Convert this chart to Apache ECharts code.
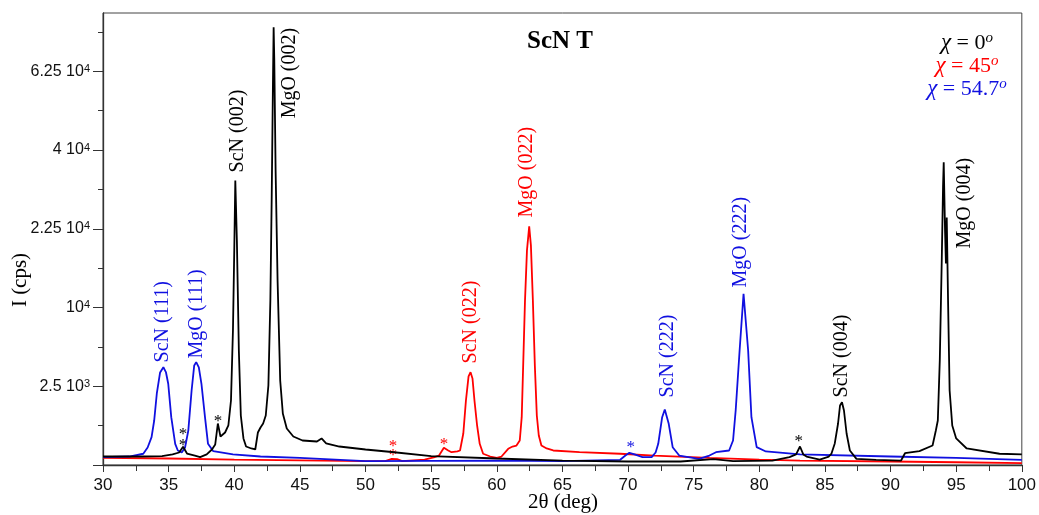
<!DOCTYPE html>
<html>
<head>
<meta charset="utf-8">
<title>ScN T</title>
<script src="https://cdn.jsdelivr.net/npm/echarts@6/dist/echarts.min.js"></script>
<style>
html, body { margin: 0; padding: 0; background: #fff; }
#chart { width: 1039px; height: 515px; }
</style>
</head>
<body>
<div id="chart"></div>
<script>
// 2θ (deg), intensity (cps)
var chi0 = [
  [30, 29], [31, 29], [33, 29], [34.5, 32], [35.3, 45], [35.8, 63], [36.1, 134], [36.4, 53],
  [37.0, 36], [37.4, 25], [37.9, 45], [38.3, 97], [38.55, 170], [38.75, 695], [38.95, 328],
  [39.1, 284], [39.3, 426], [39.55, 630], [39.75, 1679], [39.9, 7302], [40.0, 18573],
  [40.08, 32663], [40.2, 20342], [40.35, 5292], [40.5, 989], [40.7, 284], [40.9, 138],
  [41.3, 110], [41.6, 97], [41.8, 426], [42.0, 567], [42.2, 695], [42.4, 989], [42.6, 2551],
  [42.75, 10923], [42.85, 28237], [42.95, 59670], [43.0, 77261], [43.05, 66043], [43.15, 35008],
  [43.3, 13744], [43.5, 2882], [43.7, 1071], [44.0, 538], [44.5, 328], [45.2, 242], [46.3, 223],
  [46.65, 284], [47.0, 187], [48, 138], [50, 97], [52, 68], [55, 32], [60, 17], [65, 8],
  [70, 5], [74, 5], [76.5, 14], [78, 6], [81, 8], [82.3, 25], [82.8, 45], [83.1, 138],
  [83.35, 45], [83.6, 29], [84.6, 12], [85.3, 29], [85.5, 53], [85.75, 187], [86.0, 695],
  [86.15, 1429], [86.3, 1592], [86.45, 1198], [86.65, 400], [86.9, 85], [87.4, 15], [88.9, 11],
  [90.8, 8], [91.1, 56], [92.2, 77], [93.2, 153], [93.45, 480], [93.6, 799], [93.75, 4408],
  [93.9, 16884], [94.0, 31528], [94.05, 36935], [94.15, 22195], [94.22, 16388], [94.28, 24724],
  [94.38, 10923], [94.5, 2240], [94.7, 630], [95.0, 284], [95.8, 110], [98.3, 51], [100, 45]
];
var chi45 = [
  [30, 21], [35, 17], [40, 12], [45, 9], [50, 6], [51.5, 6], [52.0, 15], [52.4, 14], [52.8, 6],
  [54.5, 12], [55.2, 23], [55.6, 36], [55.97, 119], [56.3, 85], [56.55, 66], [57.0, 74],
  [57.2, 85], [57.45, 400], [57.65, 1679], [57.85, 3161], [58.0, 3476], [58.15, 3020],
  [58.3, 1679], [58.5, 630], [58.7, 181], [58.96, 51], [59.5, 29], [60.0, 21], [60.36, 29],
  [60.87, 106], [61.2, 138], [61.5, 153], [61.75, 242], [61.9, 922], [62.0, 3605],
  [62.15, 10923], [62.3, 18573], [62.47, 22979], [62.6, 19450], [62.75, 10923], [62.9, 3996],
  [63.05, 989], [63.2, 351], [63.4, 153], [63.8, 110], [64.3, 85], [66.3, 66], [69.4, 51],
  [72, 36], [76.2, 21], [80, 12], [83.1, 8], [90, 5], [95, 3], [100, 1.3]
];
var chi547 = [
  [30, 25], [32, 29], [33.07, 51], [33.4, 124], [33.7, 312], [33.9, 799], [34.1, 2064],
  [34.35, 3454], [34.6, 3861], [34.8, 3454], [34.97, 2661], [35.2, 922], [35.5, 181],
  [35.7, 85], [36.0, 63], [36.25, 124], [36.5, 480], [36.75, 2240], [36.95, 3996],
  [37.1, 4266], [37.3, 3837], [37.5, 2661], [37.77, 922], [38.0, 181], [38.4, 77],
  [39.9, 45], [42, 29], [45, 20], [50, 6], [60, 8], [65, 6], [69.4, 11], [69.8, 36],
  [70.1, 60], [70.5, 45], [71.1, 25], [71.8, 25], [72.1, 63], [72.3, 181], [72.6, 922],
  [72.8, 1243], [73.1, 685], [73.4, 128], [73.9, 36], [75.4, 15], [76.2, 36], [76.7, 66],
  [77.7, 85], [78.0, 242], [78.2, 1198], [78.5, 5292], [78.8, 11831], [79.15, 5292],
  [79.4, 922], [79.8, 128], [80.5, 74], [83.1, 45], [90, 29], [95, 20], [100, 11]
];

// y axis is drawn on a square-root scale
var yMaxCps = 82400;
var yTickCps = [0, 2500, 10000, 22500, 40000, 62500];
var yTickText = ['', '2.5 10{s|3}', '10{s|4}', '2.25 10{s|4}', '4 10{s|4}', '6.25 10{s|4}'];
var yMinorCps = [625, 5625, 15625, 30625, 50625, 75625];

// peak labels: 2θ, cps at text start, text, colour key
var peakLabels = [
  [34.57, 4240, 'ScN (111)', 'b'],
  [37.14, 4578, 'MgO (111)', 'b'],
  [40.23, 34530, 'ScN (002)', 'k'],
  [44.19, 48460, 'MgO (002)', 'k'],
  [58.0, 4160, 'ScN (022)', 'r'],
  [62.31, 24720, 'MgO (022)', 'r'],
  [73.05, 1840, 'ScN (222)', 'b'],
  [78.59, 12720, 'MgO (222)', 'b'],
  [86.31, 1840, 'ScN (004)', 'k'],
  [95.65, 18920, 'MgO (004)', 'k']
];
var stars = [
  [36.09, 375, 'k'], [36.09, 153, 'k'], [38.76, 763, 'k'],
  [52.09, 138, 'r'], [52.09, 36, 'r'], [55.97, 170, 'r'],
  [70.21, 124, 'b'], [83.01, 223, 'k']
];

var colors = { k: '#000000', r: '#ff0000', b: '#1010e0' };
var sq = function (p) { return [p[0], Math.sqrt(p[1])]; };
var sansFont = '"Liberation Sans Narrow", "Liberation Sans", sans-serif';
var serifFont = '"Liberation Serif", "Times New Roman", serif';

var chart = echarts.init(document.getElementById('chart'));

var lineSeries = function (name, data, color) {
  return {
    name: name,
    type: 'line',
    data: data.map(sq),
    symbol: 'none',
    smooth: false,
    animation: false,
    lineStyle: { color: color, width: 1.8 }
  };
};

chart.setOption({
  animation: false,
  grid: {
    left: 103, right: 17, top: 13, bottom: 50,
    show: true, borderColor: '#444', borderWidth: 1
  },
  xAxis: {
    type: 'value',
    min: 30, max: 100, interval: 5,
    axisLine: { lineStyle: { color: '#333', width: 1.3 } },
    axisTick: { length: 7, lineStyle: { color: '#333' } },
    minorTick: { show: true, splitNumber: 2, length: 6, lineStyle: { color: '#333' } },
    splitLine: { show: false },
    axisLabel: { color: '#111', fontSize: 17, fontFamily: sansFont, margin: 12 }
  },
  yAxis: [{
    type: 'value',
    min: 0, max: Math.sqrt(yMaxCps),
    axisLine: { show: true, lineStyle: { color: '#333', width: 1.3 } },
    axisTick: {
      show: true, length: 10, lineStyle: { color: '#333' },
      customValues: yTickCps.map(Math.sqrt)
    },
    splitLine: { show: false },
    axisLabel: {
      customValues: yTickCps.slice(1).map(Math.sqrt),
      margin: 13,
      color: '#111', fontSize: 16, fontFamily: sansFont,
      formatter: function (v) {
        for (var i = 0; i < yTickCps.length; i++) {
          if (Math.abs(Math.sqrt(yTickCps[i]) - v) < 0.01) return yTickText[i];
        }
        return '';
      },
      rich: { s: { fontSize: 11, fontFamily: sansFont, color: '#111', verticalAlign: 'top', lineHeight: 10 } }
    }
  }, {
    type: 'value',
    position: 'left',
    min: 0, max: Math.sqrt(yMaxCps),
    axisLine: { show: false },
    axisTick: {
      show: true, length: 5, lineStyle: { color: '#333' },
      customValues: yMinorCps.map(Math.sqrt)
    },
    axisLabel: { show: false },
    splitLine: { show: false }
  }],
  series: [
    lineSeries('χ = 45°', chi45, colors.r),
    lineSeries('χ = 54.7°', chi547, colors.b),
    lineSeries('χ = 0°', chi0, colors.k)
  ]
});

var graphics = [];
peakLabels.forEach(function (l) {
  var pt = chart.convertToPixel({ seriesIndex: 0 }, [l[0], Math.sqrt(l[1])]);
  graphics.push({
    type: 'text', x: pt[0], y: pt[1], rotation: Math.PI / 2,
    style: { text: l[2], fill: colors[l[3]], fontSize: 20, fontFamily: serifFont, align: 'left', verticalAlign: 'middle' }
  });
});
stars.forEach(function (s) {
  var pt = chart.convertToPixel({ seriesIndex: 0 }, [s[0], Math.sqrt(s[1])]);
  graphics.push({
    type: 'text', x: pt[0], y: pt[1],
    style: { text: '*', fill: colors[s[2]], fontSize: 17, fontFamily: serifFont, align: 'center', verticalAlign: 'middle' }
  });
});

// title, legend text and axis names
graphics.push({
  type: 'text', x: 560, y: 42,
  style: { text: 'ScN T', fill: '#000', fontSize: 25, fontWeight: 'bold', fontFamily: serifFont, align: 'center', verticalAlign: 'middle' }
});
var legendRows = [['0', 'k', 43], ['45', 'r', 66], ['54.7', 'b', 89]];
legendRows.forEach(function (r) {
  var c = colors[r[1]];
  graphics.push({
    type: 'text', x: 967, y: r[2],
    style: {
      text: '{c|χ}{n| = ' + r[0] + '}{o|o}',
      align: 'center', verticalAlign: 'middle',
      rich: {
        c: { fontSize: 23, fontStyle: 'italic', fontFamily: serifFont, fill: c, lineHeight: 25 },
        n: { fontSize: 22, fontFamily: serifFont, fill: c, lineHeight: 25 },
        o: { fontSize: 15, fontStyle: 'italic', fontFamily: serifFont, fill: c, lineHeight: 15, verticalAlign: 'top' }
      }
    }
  });
});
graphics.push({
  type: 'text', x: 563, y: 502,
  style: { text: '2θ (deg)', fill: '#000', fontSize: 21, fontFamily: serifFont, align: 'center', verticalAlign: 'middle' }
});
graphics.push({
  type: 'text', x: 20, y: 280, rotation: Math.PI / 2,
  style: { text: 'I (cps)', fill: '#000', fontSize: 21, fontFamily: serifFont, align: 'center', verticalAlign: 'middle' }
});

chart.setOption({ graphic: graphics });
</script>
</body>
</html>
